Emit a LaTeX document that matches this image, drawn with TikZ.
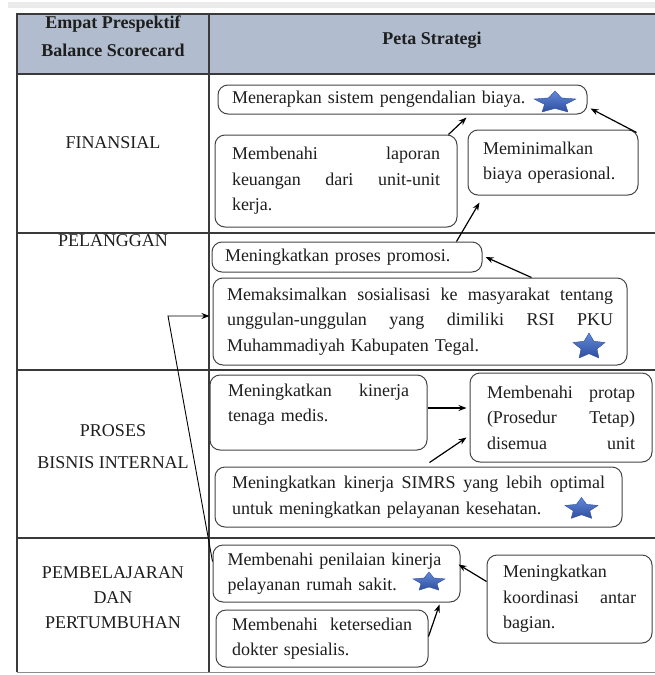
\documentclass[tikz,border=0pt]{standalone}
\usepackage{fontspec}
\setmainfont{Liberation Serif}
\usetikzlibrary{arrows.meta,calc}
\definecolor{hdr}{HTML}{B1BDCE}
\definecolor{tline}{HTML}{3A3A3A}
\definecolor{bline}{HTML}{454545}
\definecolor{txt}{HTML}{1E1E1E}
\definecolor{stardark}{HTML}{2F4E9E}
\definecolor{starlight}{HTML}{6289D9}
\tikzset{
 box/.style={draw=bline, line width=1pt, rounded corners=10pt, inner sep=0pt, align=left, text=txt, font=\fontsize{18}{25.5}\selectfont},
 lbl/.style={text=txt, align=center, inner sep=0pt, font=\fontsize{18}{25}\selectfont},
 hd/.style={text=txt, align=center, inner sep=0pt, font=\fontsize{18}{28}\selectfont\bfseries},
 arr/.style={-{Stealth[length=8pt,width=6pt]}, line width=1.2pt, black},
 tl/.style={draw=tline, line width=1.2pt},
 pics/bstar/.style={code={\shade[top color=starlight, bottom color=stardark, draw=stardark, line width=0.4pt] (0,1) -- (-0.294,0.405) -- (-0.951,0.309) -- (-0.476,-0.155) -- (-0.588,-0.809) -- (0,-0.5) -- (0.588,-0.809) -- (0.476,-0.155) -- (0.951,0.309) -- (0.294,0.405) -- cycle;}}
}
\begin{document}
\begin{tikzpicture}[x=1pt,y=1pt]
\useasboundingbox (0,0) rectangle (655,-675);
\fill[white] (0,0) rectangle (655,-675);
% top strip and table
\fill[black!8] (8,-2) rectangle (655,-8);
\fill[hdr] (17,-14) rectangle (655,-74);
\draw[draw=black!45, line width=0.8pt] (17,-672) -- (655,-672);
\draw[tl] (655,-14) -- (17,-14) -- (17,-672);
\draw[tl] (17,-74) -- (655,-74);
\draw[tl] (17,-233) -- (655,-233);
\draw[tl] (17,-370) -- (655,-370);
\draw[tl] (17,-538) -- (655,-538);
\draw[tl] (209,-14) -- (209,-672);
% left column
\node[hd] (h1) at (113,-36) {Empat Prespektif\\Balance Scorecard};
\node[hd] (h2) at (432,-40) {Peta Strategi};
\node[lbl] (p1) at (113,-143) {FINANSIAL};
\node[lbl] (p2) at (113,-241) {PELANGGAN};
\node[lbl] (p3) at (113,-446.5) {PROSES\\[7pt]BISNIS INTERNAL};
\node[lbl] (p4) at (113,-598) {PEMBELAJARAN\\DAN\\PERTUMBUHAN};
% boxes
\node[box, minimum width=369pt, minimum height=29pt, text width=341pt] (b1) at (402.5,-99.5) {Menerapkan sistem pengendalian biaya.};
\node[box, minimum width=242pt, minimum height=92pt, text width=208pt] (b2) at (336,-181) {Membenahi\hfill laporan\\ keuangan\hfill dari\hfill unit-unit\\ kerja.};
\node[box, minimum width=170pt, minimum height=65pt, text width=140pt] (b3) at (553,-162.5) {Meminimalkan\\ biaya operasional.};
\node[box, minimum width=270pt, minimum height=30pt, text width=244pt] (b4) at (347,-257) {Meningkatkan proses promosi.};
\node[box, minimum width=414pt, minimum height=87pt, text width=386pt] (b5) at (420,-321.5) {Memaksimalkan\hfill sosialisasi\hfill ke\hfill masyarakat\hfill tentang\\ unggulan-unggulan\hfill yang\hfill dimiliki\hfill RSI\hfill PKU\\ Muhammadiyah Kabupaten Tegal.};
\node[box, minimum width=217pt, minimum height=75pt, text width=181pt] (b6) at (318.5,-412.5) {Meningkatkan\hfill kinerja\\ tenaga medis.\\[-6pt]\mbox{}};
\node[box, minimum width=182pt, minimum height=89pt, text width=148pt] (b7) at (561,-417.5) {Membenahi\hfill protap\\ (Prosedur\hfill Tetap)\\ disemua\hfill unit};
\node[box, minimum width=407pt, minimum height=60pt, text width=373pt] (b8) at (418.5,-497) {Meningkatkan\hfill kinerja\hfill SIMRS\hfill yang\hfill lebih\hfill optimal\\ untuk meningkatkan pelayanan kesehatan.};
\node[box, minimum width=247pt, minimum height=57pt, text width=218pt] (b9) at (336.5,-573.5) {Membenahi penilaian kinerja\\ pelayanan rumah sakit.};
\node[box, minimum width=212pt, minimum height=57pt, text width=180pt] (b10) at (322,-638.5) {Membenahi\hfill ketersedian\\ dokter spesialis.};
\node[box, minimum width=165pt, minimum height=88pt, text width=133pt] (b11) at (569.5,-599) {Meningkatkan\\ koordinasi\hfill antar\\ bagian.};
% stars
\pic[xscale=22, yscale=11.6] at (555,-102.6) {bstar};
\pic[xscale=16.8, yscale=13.8] at (589,-346.8) {bstar};
\pic[xscale=17.4, yscale=11.5] at (581.5,-509) {bstar};
\pic[xscale=16.8, yscale=10] at (429,-582) {bstar};
% connectors
\coordinate (kink) at (168,-316);
\draw[arr] ([xshift=-9pt]b2.north east) -- ([xshift=249pt,yshift=-3pt]b1.south west);
\draw[arr] ([xshift=-2pt,yshift=-3pt]b3.north east) -- ([xshift=3pt,yshift=6pt]b1.south east);
\draw[arr] ([xshift=245pt]b4.north west) -- ([xshift=12pt,yshift=-7pt]b3.south west);
\draw[arr] ([xshift=319pt]b5.north west) -- ([xshift=3pt]b4.east);
\draw[arr, line width=0.9pt] ([yshift=-17pt]b9.north west) -- (kink) -- ([xshift=-3pt,yshift=5.5pt]b5.west);
\draw[arr] ([yshift=4.5pt]b6.east) -- ([xshift=-3pt,yshift=9.5pt]b7.west);
\draw[arr] ([xshift=215pt,yshift=4pt]b8.north west) -- ([xshift=-3pt,yshift=25pt]b7.south west);
\draw[arr] ([yshift=-27pt]b11.north west) -- ([xshift=-2pt,yshift=-20pt]b9.north east);
\draw[arr] ([yshift=-27pt]b10.north east) -- ([xshift=227pt,yshift=-2pt]b9.south west);
\end{tikzpicture}
\end{document}
